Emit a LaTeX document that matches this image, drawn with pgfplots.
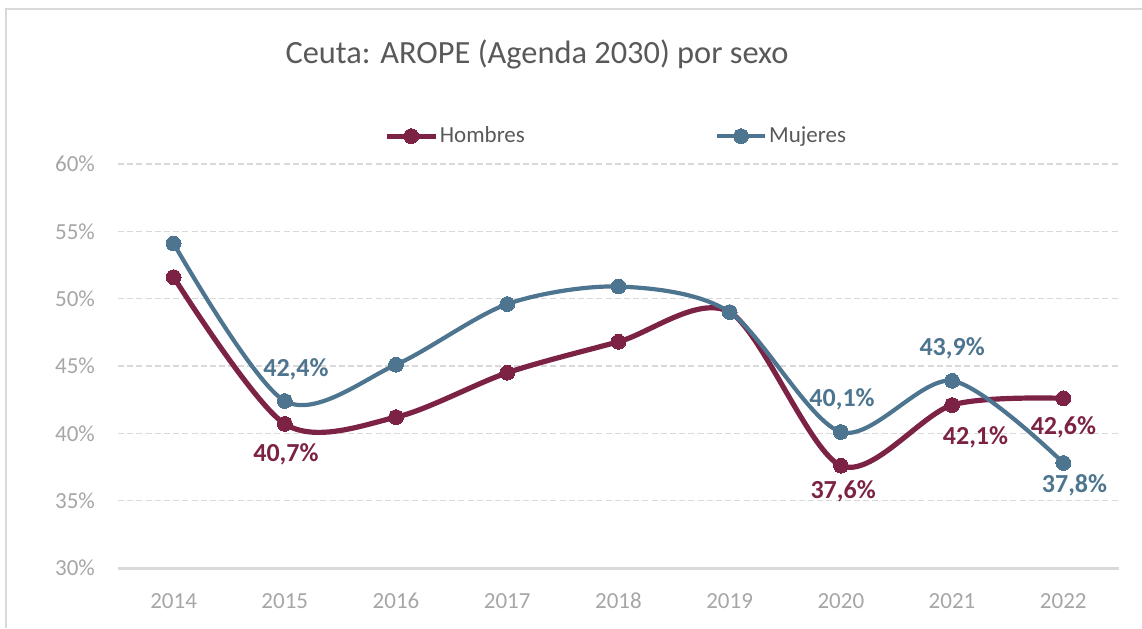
\documentclass[border=0pt]{standalone}
\usepackage{pgfplots}
\pgfplotsset{compat=1.18}
\usepackage{fontspec}
\setmainfont{Carlito}
\definecolor{hom}{HTML}{7C2245}
\definecolor{muj}{HTML}{4E758F}
\definecolor{gridc}{HTML}{D9D9D9}
\definecolor{tickc}{HTML}{A6A6A6}
\definecolor{titc}{HTML}{595959}
\begin{document}
\begin{tikzpicture}
\path[use as bounding box] (0pt,0pt) rectangle (571pt,-314pt);
\draw[gridc,line width=0.9pt] (3pt,-314pt) -- (3pt,-4.5pt) -- (571pt,-4.5pt);
\node[font=\fontsize{16.2}{19}\selectfont,text=titc] at (268.5pt,-27pt) {Ceuta: AROPE (Agenda 2030) por sexo};
\begin{axis}[
  at={(59pt,-284pt)}, anchor=south west,
  scale only axis, width=500.5pt, height=202pt,
  xmin=2013.5, xmax=2022.5, ymin=30, ymax=60,
  xtick={2014,...,2022}, ytick={30,35,...,60},
  /pgf/number format/1000 sep={},
  /pgf/number format/assume math mode=true,
  yticklabel={\pgfmathprintnumber{\tick}\%},
  ticklabel style={font=\fontsize{11.5}{13}\selectfont,text=tickc},
  xticklabel style={yshift=-9pt},
  yticklabel style={xshift=-8pt},
  major tick length=0pt,
  axis line style={draw=none},
  ymajorgrids, grid style={gridc,line width=0.6pt,dash pattern=on 3pt off 1.6pt},
  legend columns=2,
  legend style={draw=none,fill=none,at={(0.266,1.069)},anchor=west,inner sep=0pt,
    font=\fontsize{11.5}{13}\selectfont,text=titc,
    nodes={inner xsep=1pt},
    /tikz/every even column/.append style={column sep=94pt}},
  legend image code/.code={\draw[mark repeat=2,mark phase=2,#1] plot coordinates {(0pt,0pt)(12pt,0pt)(24pt,0pt)};},
  clip=false,
]
\draw[gridc,line width=1.5pt] (axis cs:2013.5,30) -- (axis cs:2022.5,30);
\addplot[hom,line width=2.6pt,smooth,mark=*,mark size=3.7pt,mark options={line width=0pt}] coordinates {
(2014,51.6)(2015,40.7)(2016,41.2)(2017,44.5)(2018,46.8)(2019,49.0)(2020,37.6)(2021,42.1)(2022,42.6)};
\addlegendentry{Hombres}
\addplot[muj,line width=2.1pt,smooth,mark=*,mark size=3.7pt,mark options={line width=0pt}] coordinates {
(2014,54.1)(2015,42.4)(2016,45.1)(2017,49.6)(2018,50.9)(2019,49.0)(2020,40.1)(2021,43.9)(2022,37.8)};
\addlegendentry{Mujeres}
\begin{scope}[every node/.style={font=\fontsize{13}{15}\selectfont\bfseries}]
\node[text=hom] at (axis cs:2015.01,38.47) {40,7\%};
\node[text=hom] at (axis cs:2020.02,35.72) {37,6\%};
\node[text=hom] at (axis cs:2021.21,39.73) {42,1\%};
\node[text=hom] at (axis cs:2022,40.48) {42,6\%};
\node[text=muj] at (axis cs:2015.10,44.78) {42,4\%};
\node[text=muj] at (axis cs:2020.01,42.56) {40,1\%};
\node[text=muj] at (axis cs:2021,46.34) {43,9\%};
\node[text=muj] at (axis cs:2022.10,36.17) {37,8\%};
\end{scope}
\end{axis}
\end{tikzpicture}
\end{document}
